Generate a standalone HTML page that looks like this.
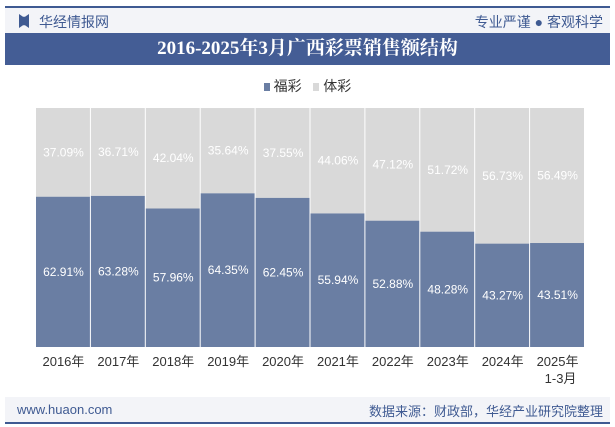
<!DOCTYPE html>
<html><head><meta charset="utf-8"><style>
body{margin:0;width:615px;height:427px;background:#fff;font-family:"Liberation Sans","Noto Sans CJK SC",sans-serif;position:relative;overflow:hidden}
.abs{position:absolute}
</style></head><body>
<div class="abs" style="left:5px;top:6px;width:605px;height:2px;background:#3f5a92"></div>
<div class="abs" style="left:5px;top:8px;width:605px;height:25px;background:#f3f4f8"></div>
<div class="abs" style="left:19px;top:14px;width:10px;height:14px;background:#3f5a92;clip-path:polygon(0 0,40% 20%,60% 20%,100% 0,100% 100%,60% 80%,40% 80%,0 100%)"></div>
<div class="abs" style="left:39px;top:12px;font-size:14px;color:#3f5a92">华经情报网</div>
<div class="abs" style="right:12px;top:12px;font-size:14px;color:#3f5a92">专业严谨 ● 客观科学</div>
<div class="abs" style="left:5px;top:33px;width:605px;height:32px;background:#445d95;color:#fff;font-family:'Liberation Serif','Noto Serif CJK SC',serif;font-weight:bold;font-size:19px;text-align:center;line-height:32px">2016-2025年3月广西彩票销售额结构</div>
<div class="abs" style="left:0;width:615px;top:76px;text-align:center;font-size:14px;color:#333">
<span><span style="display:inline-block;width:6px;height:8px;background:#6a7ea3"></span> 福彩</span>&nbsp;&nbsp;
<span><span style="display:inline-block;width:6px;height:8px;background:#d9d9d9"></span> 体彩</span></div>
<svg class="abs" style="left:0;top:0" width="615" height="427" id="chart"></svg>
<div class="abs" style="left:5px;top:397px;width:605px;height:25px;background:#f3f4f8"></div>
<div class="abs" style="left:17px;top:402px;font-size:13px;color:#3f5a92">www.huaon.com</div>
<div class="abs" style="right:12px;top:401px;font-size:13px;color:#3f5a92">数据来源：财政部，华经产业研究院整理</div>
<div class="abs" style="left:5px;top:422px;width:605px;height:2px;background:#3f5a92"></div>
<script>
const categories=["2016年","2017年","2018年","2019年","2020年","2021年","2022年","2023年","2024年","2025年"];
const fucai=[62.91,63.28,57.96,64.35,62.45,55.94,52.88,48.28,43.27,43.51];
const ticai=[37.09,36.71,42.04,35.64,37.55,44.06,47.12,51.72,56.73,56.49];
const svg=document.getElementById('chart');const NS='http://www.w3.org/2000/svg';
const L=36,R=585,T=108,B=347;const bw=(R-L)/categories.length;
const y=v=>B-(v/100)*(B-T);
function mk(t,a){const e=document.createElementNS(NS,t);for(const k in a)e.setAttribute(k,a[k]);svg.appendChild(e);return e;}
categories.forEach((c,i)=>{
 const x=L+i*bw;
 const r1=mk('rect',{x:x,y:y(fucai[i]),width:bw-1,height:B-y(fucai[i]),fill:'#6a7ea3'});
 
 
 const r2=mk('rect',{x:x,y:y(fucai[i]+ticai[i]),width:bw-1,height:y(fucai[i])-y(fucai[i]+ticai[i]),fill:'#d9d9d9'});
 
 
 const t1=mk('text',{x:x+bw/2,y:(y(fucai[i])+B)/2+4,'text-anchor':'middle','font-size':'12',fill:'#fff'});t1.textContent=fucai[i].toFixed(2)+'%';
 
 
 const t2=mk('text',{x:x+bw/2,y:(y(fucai[i])+y(fucai[i]+ticai[i]))/2+4,'text-anchor':'middle','font-size':'12',fill:'#fff'});t2.textContent=ticai[i].toFixed(2)+'%';
 
 
 const t3=mk('text',{x:x+bw/2,y:B+19,'text-anchor':'middle','font-size':'13',fill:'#333'});t3.textContent=c;
 
 
 if(i===categories.length-1){const t4=mk('text',{x:x+bw/2+3,y:B+36,'text-anchor':'middle','font-size':'13',fill:'#333'});t4.textContent='1-3月';
 
 }
});
</script>
</body></html>
